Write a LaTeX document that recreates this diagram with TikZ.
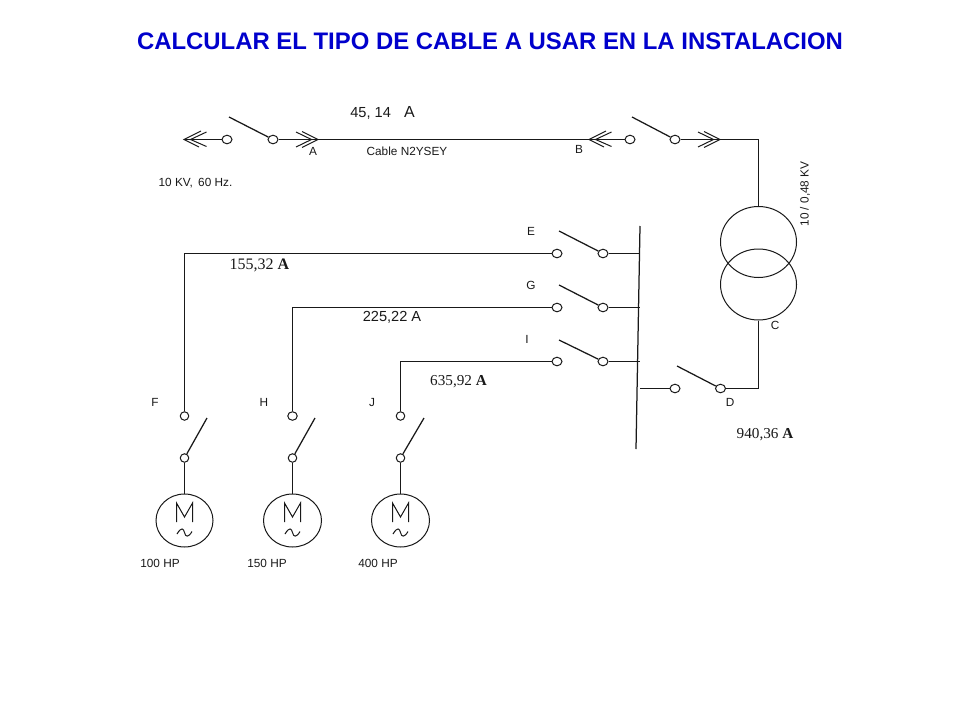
\documentclass[tikz,border=0pt]{standalone}
\usepackage{fontspec}
\setmainfont{Liberation Sans}
\newfontfamily\serifface{Liberation Serif}
\usetikzlibrary{shapes.geometric}
\definecolor{titleblue}{RGB}{0,0,204}
\definecolor{ink}{RGB}{25,25,25}
\tikzset{
  wire/.style={draw=ink,line width=1.25pt},
  thin wire/.style={draw=ink,line width=1pt},
  ring/.style={ellipse,draw=ink,line width=1pt,fill=white,minimum width=10pt,minimum height=8.5pt,inner sep=0pt},
  coil/.style={ellipse,draw=ink,line width=1pt,minimum width=76pt,minimum height=71pt,inner sep=0pt},
  motor/.style={ellipse,draw=ink,line width=1pt,minimum width=57pt,minimum height=53pt,inner sep=0pt},
  lab/.style={inner sep=0pt,text=ink,font=\fontsize{11.8}{13}\selectfont},
  amps/.style={inner sep=0pt,text=ink,font=\serifface\fontsize{15.2}{17}\selectfont}
}
\newcommand{\chevR}[2]{\draw[thin wire] (#1-16,#2-8)--(#1,#2)--(#1-16,#2+8);\draw[thin wire] (#1-22,#2-7.5)--(#1-6.5,#2)--(#1-22,#2+7.5);}
\newcommand{\chevL}[2]{\draw[thin wire] (#1+17,#2-8.5)--(#1,#2)--(#1+15,#2+7.5);\draw[thin wire] (#1+22.5,#2-7.5)--(#1+6.5,#2)--(#1+22.5,#2+7);}
\newcommand{\motorsym}[2]{\draw[thin wire] (#1-8,#2+1.5)--(#1-8,#2-17.5)--(#1,#2-3.5)--(#1+8,#2-17.5)--(#1+8,#2+1.5);
  \draw[thin wire] (#1-7.5,#2+13.5) .. controls (#1-3,#2+6) and (#1-1,#2+8) .. (#1,#2+12) .. controls (#1+1,#2+17) and (#1+4,#2+17) .. (#1+7.5,#2+11);}
\begin{document}
\begin{tikzpicture}[x=1pt,y=-1pt]
\useasboundingbox (0,0) rectangle (960,720);
\node[inner sep=0pt,text=titleblue,font=\bfseries\fontsize{23.9}{27}\selectfont] (title) at (490,41) {CALCULAR EL TIPO DE CABLE A USAR EN LA INSTALACION};

% top line
\coordinate (tipL) at (184,139.5);
\coordinate (tipA) at (318,139.5);
\coordinate (tipB) at (589,139.5);
\coordinate (tipR) at (720,139.5);
\coordinate (cornerT) at (758.5,139.5);
\node[ring] (r1) at (227,139.5) {};
\node[ring] (r2) at (273,139.5) {};
\node[ring] (r3) at (630,139.5) {};
\node[ring] (r4) at (675,139.5) {};
\draw[wire] (tipL)--(r1);
\draw[wire] (r2)--(tipA);
\draw[wire] (tipA)--(tipB);
\draw[wire] (tipB)--(r3);
\draw[wire] (r4)--(tipR);
\chevL{184}{139.5}\chevR{318}{139.5}\chevL{589}{139.5}\chevR{720}{139.5}
\coordinate (b1) at (229,117); \draw[wire] (b1)--(r2);
\coordinate (b2) at (632,117); \draw[wire] (b2)--(r4);

% transformer
\node[coil] (t1) at (758.5,242) {};
\node[coil] (t2) at (758.5,284.5) {};
\draw[wire] (tipR)--(cornerT)--(t1.north);

% bus bar
\coordinate (busT) at (640,226);
\coordinate (busB) at (636,449);
\draw[wire] (busT)--(busB);

% D switch
\coordinate (busD) at (640,388.5);
\coordinate (cornerD) at (758.5,388.5);
\node[ring] (rd1) at (675,388.5) {};
\node[ring] (rd2) at (720.5,388.5) {};
\draw[wire] (busD)--(rd1);
\draw[wire] (rd2)--(cornerD)--(t2.south);
\coordinate (bd) at (677,366); \draw[wire] (bd)--(rd2);

% feeders E G I
\node[ring] (e1) at (557,253.5) {};
\node[ring] (e2) at (603,253.5) {};
\node[ring] (g1) at (557,307.5) {};
\node[ring] (g2) at (603,307.5) {};
\node[ring] (i1) at (557,361.5) {};
\node[ring] (i2) at (603,361.5) {};
\coordinate (be) at (559,231); \draw[wire] (be)--(e2);
\coordinate (bg) at (559,285); \draw[wire] (bg)--(g2);
\coordinate (bi) at (559,340); \draw[wire] (bi)--(i2);
\coordinate (busE) at (640,253.5);
\coordinate (busG) at (640,307.5);
\coordinate (busI) at (640,361.5);
\draw[wire] (e2)--(busE);
\draw[wire] (g2)--(busG);
\draw[wire] (i2)--(busI);

% motors
\node[ring,minimum width=8.5pt] (f1) at (184.5,416) {};
\node[ring,minimum width=8.5pt] (f2) at (184.5,458) {};
\node[ring,minimum width=9.5pt] (h1) at (292.5,416) {};
\node[ring,minimum width=8.5pt] (h2) at (292.5,458) {};
\node[ring,minimum width=8.5pt] (j1) at (400.5,416) {};
\node[ring,minimum width=8.5pt] (j2) at (400.5,458) {};
\node[motor] (mf) at (184.5,520.5) {};
\node[motor,minimum width=58pt] (mh) at (292.5,520.5) {};
\node[motor,minimum width=58pt] (mj) at (400.5,520.5) {};
\coordinate (cf) at (184.5,253.5);
\coordinate (ch) at (292.5,307.5);
\coordinate (cj) at (400.5,361.5);
\draw[wire] (e1)--(cf)--(f1);
\draw[wire] (g1)--(ch)--(h1);
\draw[wire] (i1)--(cj)--(j1);
\draw[wire] (f2)--(mf);
\draw[wire] (h2)--(mh);
\draw[wire] (j2)--(mj);
\coordinate (bf) at (207,418); \draw[wire] (bf)--(f2);
\coordinate (bh) at (315,418); \draw[wire] (bh)--(h2);
\coordinate (bj) at (424,418); \draw[wire] (bj)--(j2);
\motorsym{184.5}{520.5}\motorsym{292.5}{520.5}\motorsym{400.5}{520.5}

% labels
\node[lab,font=\fontsize{14.6}{16}\selectfont] (l1) at (382.5,112.5) {45, 14\hspace{0.9em}{\fontsize{16}{16}\selectfont A}};
\node[lab] (la) at (313,151) {A};
\node[lab] (lc) at (407,151) {Cable N2YSEY};
\node[lab] (lb) at (579,149) {B};
\node[lab] (lv) at (195.5,183) {10 KV,\, 60 Hz.};
\node[lab,rotate=90] (lk) at (805,194) {10 / 0,48 KV};
\node[lab] (le) at (531,231) {E};
\node[lab] (lg) at (531,285) {G};
\node[lab] (li) at (527,339) {I};
\node[lab] (lcc) at (775,325) {C};
\node[lab] (ld) at (730,402) {D};
\node[lab] (lf) at (155,402) {F};
\node[lab] (lh) at (264,402) {H};
\node[lab] (lj) at (372,402) {J};
\node[amps,font=\serifface\fontsize{16}{17}\selectfont] (a1) at (259.5,265) {155,32 \textbf{A}};
\node[lab,font=\fontsize{14.6}{16}\selectfont] (a2) at (392,317) {225,22 A};
\node[amps] (a3) at (458.5,382) {635,92 \textbf{A}};
\node[amps] (a4) at (765,435) {940,36 \textbf{A}};
\node[lab] (m1) at (160,563) {100 HP};
\node[lab] (m2) at (267,563) {150 HP};
\node[lab] (m3) at (378,563) {400 HP};
\end{tikzpicture}
\end{document}
